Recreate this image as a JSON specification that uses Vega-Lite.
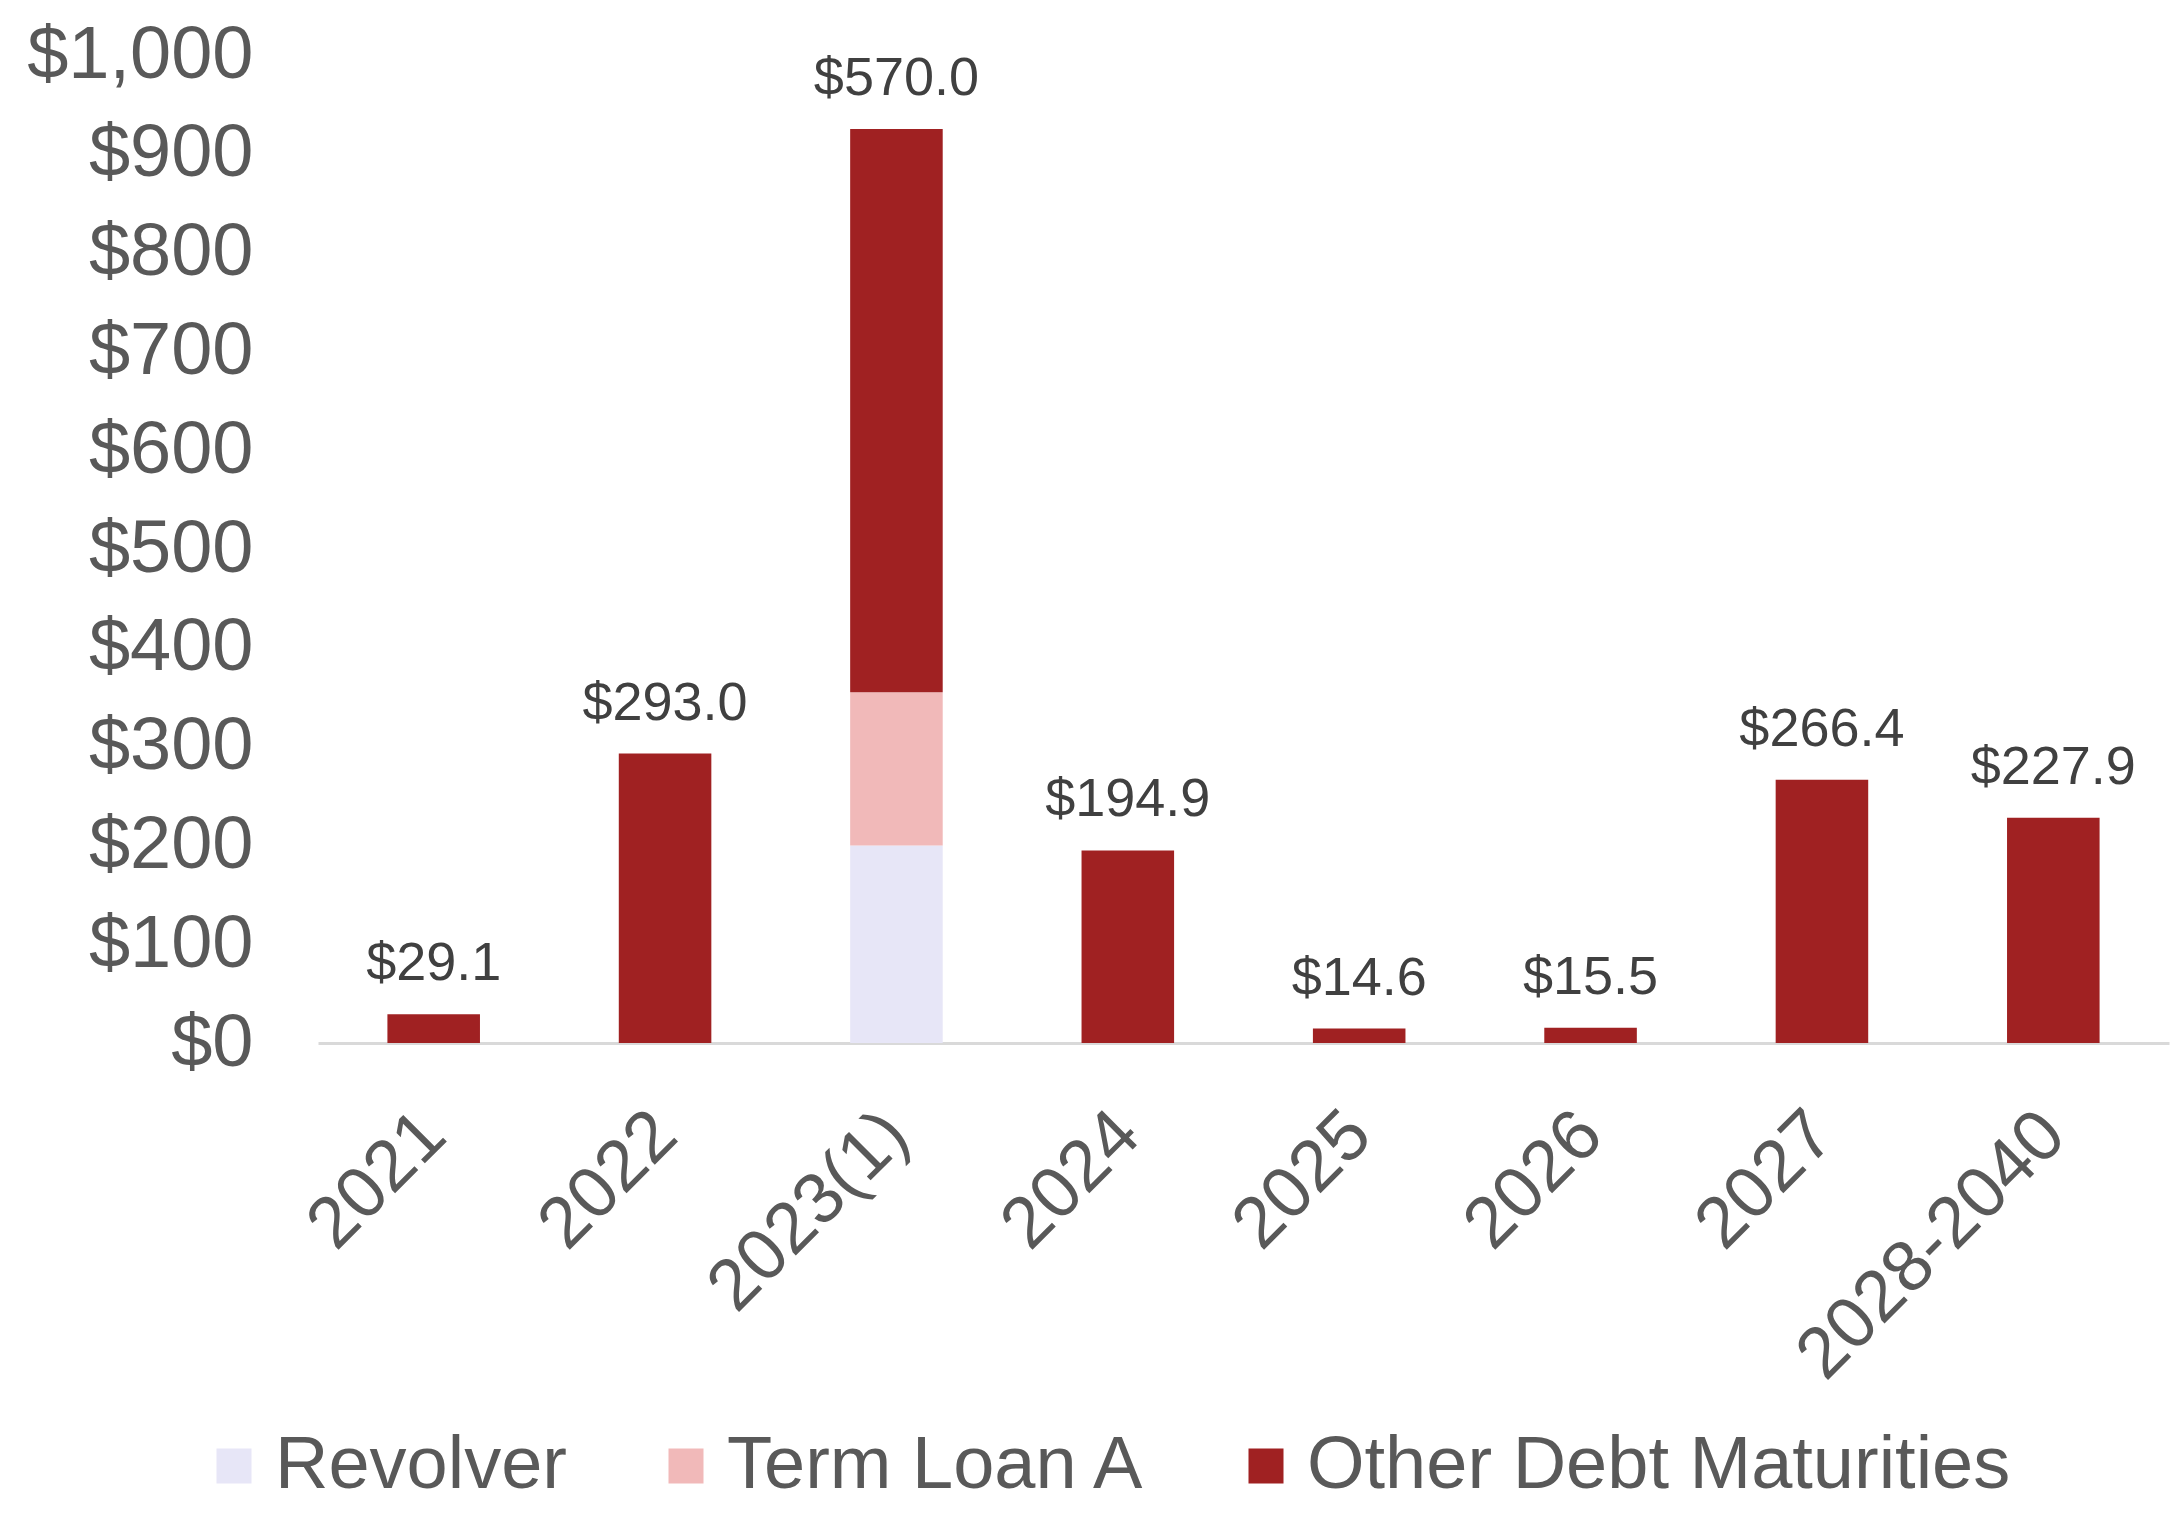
{
  "$schema": "https://vega.github.io/schema/vega-lite/v6.json",
  "autosize": {"type": "none"},
  "width": 1851,
  "height": 988,
  "padding": {"left": 318, "top": 55, "right": 8, "bottom": 470},
  "background": "white",
  "config": {"view": {"stroke": null}, "font": "Liberation Sans, Arial, sans-serif"},
  "data": {
    "values": [
      {"year": "2021", "series": "Other Debt Maturities", "value": 29.1},
      {"year": "2022", "series": "Other Debt Maturities", "value": 293.0},
      {"year": "2023(1)", "series": "Revolver", "value": 200.0},
      {"year": "2023(1)", "series": "Term Loan A", "value": 155.0},
      {"year": "2023(1)", "series": "Other Debt Maturities", "value": 570.0},
      {"year": "2024", "series": "Other Debt Maturities", "value": 194.9},
      {"year": "2025", "series": "Other Debt Maturities", "value": 14.6},
      {"year": "2026", "series": "Other Debt Maturities", "value": 15.5},
      {"year": "2027", "series": "Other Debt Maturities", "value": 266.4},
      {"year": "2028-2040", "series": "Other Debt Maturities", "value": 227.9}
    ]
  },
  "encoding": {
    "x": {
      "field": "year",
      "type": "nominal",
      "sort": ["2021", "2022", "2023(1)", "2024", "2025", "2026", "2027", "2028-2040"],
      "scale": {"paddingInner": 0.6, "paddingOuter": 0.3},
      "axis": {
        "title": null,
        "domain": true,
        "domainColor": "#D9D9D9",
        "domainWidth": 3,
        "ticks": false,
        "labelAngle": -45,
        "labelAlign": "right",
        "labelBaseline": "middle",
        "labelFontSize": 72,
        "labelColor": "#595959",
        "labelPadding": 80,
        "labelLimit": 2000
      }
    }
  },
  "layer": [
    {
      "transform": [
        {"calculate": "indexof(['Revolver','Term Loan A','Other Debt Maturities'], datum.series)", "as": "ord"}
      ],
      "mark": {"type": "bar"},
      "encoding": {
        "y": {
          "field": "value",
          "type": "quantitative",
          "stack": "zero",
          "scale": {"domain": [0, 1000], "nice": false},
          "axis": {
            "title": null,
            "domain": false,
            "ticks": false,
            "grid": false,
            "values": [0, 100, 200, 300, 400, 500, 600, 700, 800, 900, 1000],
            "format": "$,.0f",
            "labelFontSize": 74,
            "labelColor": "#595959",
            "labelPadding": 65,
            "labelLimit": 2000
          }
        },
        "color": {
          "field": "series",
          "type": "nominal",
          "scale": {
            "domain": ["Revolver", "Term Loan A", "Other Debt Maturities"],
            "range": ["#E7E6F7", "#F1B9B9", "#A02122"]
          },
          "legend": {
            "title": null,
            "orient": "none",
            "direction": "horizontal",
            "legendX": -121,
            "legendY": 1374,
            "padding": 0,
            "symbolType": "square",
            "symbolSize": 1225,
            "symbolStrokeWidth": 0,
            "symbolOpacity": 1,
            "labelFontSize": 74,
            "labelColor": "#595959",
            "labelOffset": 4,
            "columnPadding": 82,
            "labelLimit": 2000
          }
        },
        "order": {"field": "ord", "type": "quantitative"}
      }
    },
    {
      "transform": [
        {"joinaggregate": [{"op": "sum", "field": "value", "as": "total"}], "groupby": ["year"]},
        {"filter": "datum.series === 'Other Debt Maturities'"}
      ],
      "mark": {"type": "text", "baseline": "alphabetic", "dy": -34, "fontSize": 54, "color": "#404040"},
      "encoding": {
        "y": {"field": "total", "type": "quantitative"},
        "text": {"field": "value", "type": "quantitative", "format": "$,.1f"}
      }
    }
  ]
}
